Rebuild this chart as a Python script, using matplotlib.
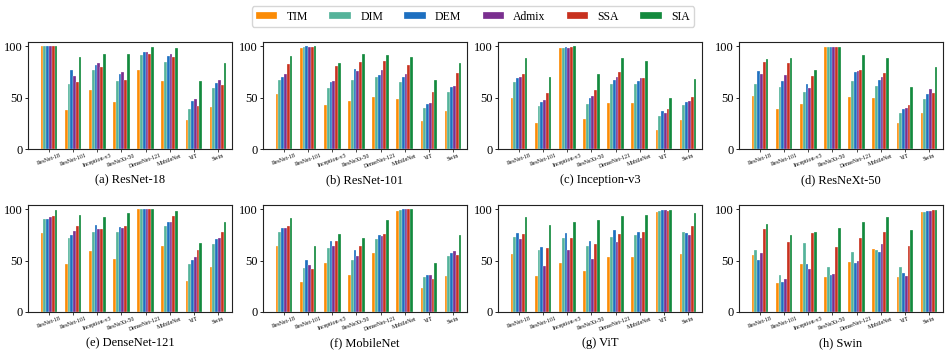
"""
Transfer attack success rates: 8 source models x 8 target models x 6 methods
"""
import numpy as np
import matplotlib.pyplot as plt

plt.rcParams['font.family'] = ['Liberation Serif', 'DejaVu Serif']

models = ["ResNet-18", "ResNet-101", "Inception-v3", "ResNeXt-50",
          "DenseNet-121", "MobileNet", "ViT", "Swin"]
methods = ["TIM", "DIM", "DEM", "Admix", "SSA", "SIA"]
colors = ["#fb8b05", "#55b39a", "#1d6fc0", "#7a2f8f", "#c8311f", "#138a3d"]
captions = ["(a) ResNet-18", "(b) ResNet-101", "(c) Inception-v3", "(d) ResNeXt-50",
            "(e) DenseNet-121", "(f) MobileNet", "(g) ViT", "(h) Swin"]

# rows: target model, columns: TIM DIM DEM Admix SSA SIA
res18 = [[100, 100, 100, 100, 100, 100],
         [38, 63, 77, 71, 65, 89],
         [57, 77, 82, 84, 80, 92],
         [46, 66, 73, 75, 67, 92],
         [77, 91, 94, 94, 92, 99],
         [66, 85, 90, 92, 89, 98],
         [28, 39, 47, 49, 42, 66],
         [41, 59, 64, 67, 62, 84]]
res101 = [[53, 67, 70, 73, 83, 90],
          [98, 99, 100, 99, 99.5, 100],
          [43, 59, 65, 66, 81, 84],
          [47, 67, 78, 76, 85, 92],
          [51, 70, 72, 77, 86, 91],
          [49, 65, 70, 73, 82, 89],
          [27, 40, 44, 45, 55, 67],
          [37, 55, 60, 61, 74, 84]]
incv3 = [[50, 65, 69, 70, 73, 88],
         [25, 42, 46, 48, 54, 70],
         [98, 98.5, 99, 98.5, 99.5, 99.8],
         [29, 44, 50, 52, 57, 73],
         [45, 63, 67, 70, 75, 88],
         [45, 63, 66, 69, 69, 86],
         [18, 32, 37, 35, 39, 50],
         [28, 43, 46, 47, 51, 68]]
resnext = [[52, 63, 76, 73, 85, 87],
           [39, 60, 66, 72, 84, 88],
           [44, 55, 63, 59, 71, 77],
           [99, 99, 99, 99, 99, 99],
           [51, 66, 75, 76, 77, 91],
           [50, 61, 67, 70, 74, 88],
           [25, 35, 39, 40, 43, 60],
           [35, 49, 53, 58, 54, 80]]
dense = [[77, 90, 90, 92, 93, 99],
         [47, 72, 75, 79, 84, 94],
         [59, 78, 85, 81, 81, 92],
         [52, 78, 83, 82, 84, 96],
         [100, 100, 100, 100, 100, 100],
         [64, 84, 87, 87, 93, 98],
         [30, 47, 51, 53, 60, 67],
         [44, 66, 71, 72, 78, 87]]
mobile = [[64, 78, 82, 82, 84, 91],
          [29, 43, 51, 46, 42, 64],
          [48, 62, 69, 64, 69, 76],
          [36, 51, 60, 54, 64, 72],
          [57, 71, 75, 74, 76, 89],
          [98, 99, 100, 100, 100, 100],
          [23, 34, 36, 36, 32, 48],
          [35, 54, 57, 59, 55, 75]]
vit = [[56, 73, 77, 71, 76, 92],
       [35, 60, 63, 45, 62, 85],
       [48, 72, 77, 60, 72, 87],
       [40, 64, 69, 52, 66, 89],
       [53, 73, 80, 68, 76, 93],
       [53, 75, 78, 72, 78, 94],
       [97, 98, 99, 99, 98.5, 99.5],
       [56, 78, 77, 75, 84, 96]]
swin = [[55, 60, 51, 57, 81, 86],
        [28, 36, 29, 32, 68, 75],
        [47, 67, 47, 42, 77, 78],
        [34, 44, 36, 37, 63, 82],
        [49, 58, 48, 50, 72, 87],
        [61, 60, 58, 66, 78, 92],
        [34, 44, 38, 35, 64, 80],
        [97, 97, 98, 98, 99, 99.5]]
all_data = [res18, res101, incv3, resnext, dense, mobile, vit, swin]

W, H = 952, 356
fig = plt.figure(figsize=(W / 100, H / 100), dpi=100)

lefts = [28, 263, 498, 739]
rows = [(42, 149), (205, 312)]
width = 204
bw = 0.115
x = np.arange(len(models))

for k, data in enumerate(all_data):
    r, c = divmod(k, 4)
    top, bot = rows[r]
    ax = fig.add_axes([lefts[c] / W, (H - bot) / H, width / W, (bot - top) / H])
    vals = np.array(data)
    for i, m in enumerate(methods):
        ax.bar(x + (i - 2.5) * bw, vals[:, i], width=bw, color=colors[i],
               edgecolor="white", linewidth=0.2, label=m)
    ax.set_xlim(-0.87, 7.58)
    ax.set_ylim(0, 104)
    ax.set_yticks([0, 50, 100])
    ax.set_xticks(x)
    ax.set_xticklabels(models, rotation=20, fontsize=4.2, ha="center")
    ax.tick_params(axis="y", labelsize=9, length=2.5, width=0.6, pad=1.5)
    ax.tick_params(axis="x", length=2, width=0.5, pad=1)
    for s in ax.spines.values():
        s.set_linewidth(0.8)
        s.set_color("#222222")
    fig.text((lefts[c] + width / 2) / W, 1 - (bot + 31) / H, captions[k],
             ha="center", va="center", fontsize=9)
    if k == 0:
        handles, labels = ax.get_legend_handles_labels()

fig.legend(handles, labels, loc="center", bbox_to_anchor=(473 / W, 1 - 16.5 / H),
           ncol=6, fontsize=8.5, frameon=True, handlelength=1.8, handleheight=0.55,
           handletextpad=0.8, columnspacing=1.8, borderpad=0.35,
           edgecolor="#cccccc", fancybox=True)

plt.savefig("out.png", dpi=100)
